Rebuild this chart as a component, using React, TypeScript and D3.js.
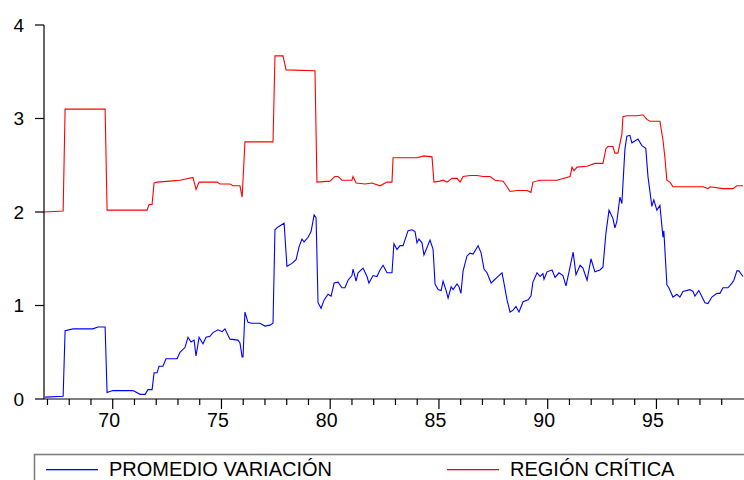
import React from 'react';
import * as d3 from 'd3';

// [year, value]
const promedioVariacion: [number, number][] = [
  [66.89, 0.02], [67.72, 0.03], [67.81, 0.73], [68.18, 0.75], [69.09, 0.75], [69.32, 0.77], [69.65, 0.77],
  [69.74, 0.07], [70.01, 0.09], [70.93, 0.09], [71.26, 0.05], [71.49, 0.05], [71.62, 0.10], [71.81, 0.10],
  [71.90, 0.28], [72.04, 0.28], [72.13, 0.35], [72.31, 0.35], [72.45, 0.43], [72.96, 0.43], [73.09, 0.50],
  [73.32, 0.55], [73.46, 0.66], [73.60, 0.61], [73.74, 0.63], [73.83, 0.46], [73.97, 0.66], [74.15, 0.59],
  [74.29, 0.66], [74.47, 0.67], [74.61, 0.71], [74.84, 0.74], [75.03, 0.72], [75.16, 0.75], [75.39, 0.64],
  [75.76, 0.63], [75.85, 0.60], [75.95, 0.45], [75.99, 0.45], [76.08, 0.93], [76.22, 0.82], [76.40, 0.81],
  [76.77, 0.81], [77.00, 0.78], [77.23, 0.79], [77.37, 0.81], [77.46, 1.81], [77.60, 1.84], [77.88, 1.88],
  [78.01, 1.42], [78.24, 1.45], [78.43, 1.49], [78.57, 1.63], [78.70, 1.71], [78.80, 1.68], [78.98, 1.73],
  [79.12, 1.79], [79.26, 1.97], [79.35, 1.94], [79.44, 1.03], [79.58, 0.97], [79.72, 1.06], [79.90, 1.12],
  [80.04, 1.10], [80.18, 1.24], [80.36, 1.25], [80.54, 1.19], [80.68, 1.19], [80.82, 1.27], [81.00, 1.32],
  [81.05, 1.39], [81.19, 1.26], [81.28, 1.35], [81.51, 1.40], [81.69, 1.31], [81.78, 1.24], [81.97, 1.32],
  [82.15, 1.31], [82.29, 1.38], [82.43, 1.43], [82.61, 1.35], [82.84, 1.35], [82.93, 1.66], [83.07, 1.60],
  [83.21, 1.64], [83.35, 1.64], [83.58, 1.80], [83.76, 1.81], [83.90, 1.79], [83.99, 1.67], [84.08, 1.71],
  [84.22, 1.67], [84.31, 1.54], [84.59, 1.70], [84.73, 1.60], [84.82, 1.23], [84.96, 1.17], [85.10, 1.16],
  [85.19, 1.26], [85.33, 1.16], [85.42, 1.08], [85.56, 1.20], [85.65, 1.17], [85.83, 1.23], [85.92, 1.20],
  [86.01, 1.13], [86.11, 1.37], [86.29, 1.53], [86.43, 1.56], [86.57, 1.55], [86.80, 1.64], [86.94, 1.56],
  [87.07, 1.39], [87.21, 1.35], [87.40, 1.24], [87.53, 1.27], [87.67, 1.30], [87.90, 1.35], [87.99, 1.24],
  [88.13, 1.06], [88.27, 0.93], [88.41, 0.95], [88.54, 0.99], [88.68, 0.93], [88.87, 1.04], [89.10, 1.06],
  [89.23, 1.10], [89.32, 1.25], [89.51, 1.35], [89.65, 1.31], [89.78, 1.34], [89.83, 1.28], [89.97, 1.36],
  [90.20, 1.38], [90.34, 1.30], [90.52, 1.35], [90.70, 1.32], [90.84, 1.21], [90.98, 1.36], [91.17, 1.57],
  [91.30, 1.33], [91.49, 1.43], [91.62, 1.40], [91.81, 1.27], [91.99, 1.50], [92.17, 1.36], [92.40, 1.38],
  [92.54, 1.41], [92.68, 1.78], [92.82, 2.02], [93.00, 1.93], [93.09, 1.83], [93.18, 1.90], [93.32, 2.16],
  [93.41, 2.09], [93.55, 2.67], [93.64, 2.81], [93.78, 2.82], [93.87, 2.74], [94.01, 2.76], [94.15, 2.78],
  [94.33, 2.71], [94.51, 2.68], [94.61, 2.38], [94.79, 2.06], [94.88, 2.13], [95.02, 2.02], [95.16, 2.07],
  [95.30, 1.73], [95.34, 1.80], [95.48, 1.22], [95.57, 1.19], [95.76, 1.09], [95.94, 1.12], [96.08, 1.09],
  [96.22, 1.15], [96.54, 1.17], [96.68, 1.15], [96.77, 1.10], [96.95, 1.16], [97.23, 1.03], [97.37, 1.02],
  [97.55, 1.09], [97.78, 1.13], [97.92, 1.13], [98.06, 1.19], [98.29, 1.19], [98.47, 1.24], [98.56, 1.27],
  [98.70, 1.37], [98.79, 1.37], [98.98, 1.31],
];

const regionCritica: [number, number][] = [
  [66.84, 2.00], [67.72, 2.01], [67.81, 3.10], [69.65, 3.10], [69.74, 2.02], [71.58, 2.02], [71.67, 2.08],
  [71.81, 2.08], [71.90, 2.31], [72.04, 2.32], [72.63, 2.33], [73.09, 2.34], [73.69, 2.37], [73.83, 2.24],
  [73.97, 2.32], [74.24, 2.32], [74.80, 2.32], [74.93, 2.30], [75.39, 2.30], [75.53, 2.28], [75.85, 2.28],
  [75.95, 2.16], [76.08, 2.75], [77.37, 2.75], [77.46, 3.67], [77.83, 3.67], [77.97, 3.52], [79.30, 3.51],
  [79.39, 2.32], [79.99, 2.33], [80.22, 2.38], [80.36, 2.38], [80.54, 2.34], [81.00, 2.34], [81.05, 2.38],
  [81.19, 2.31], [81.60, 2.30], [81.92, 2.31], [82.29, 2.28], [82.61, 2.32], [82.84, 2.32], [82.89, 2.58],
  [83.99, 2.58], [84.31, 2.60], [84.68, 2.59], [84.77, 2.32], [85.05, 2.33], [85.19, 2.34], [85.37, 2.32],
  [85.60, 2.36], [85.83, 2.36], [85.97, 2.32], [86.11, 2.38], [86.43, 2.39], [86.75, 2.39], [87.03, 2.38],
  [87.35, 2.38], [87.58, 2.34], [87.95, 2.33], [88.13, 2.27], [88.27, 2.22], [88.59, 2.23], [89.05, 2.23],
  [89.23, 2.21], [89.32, 2.32], [89.65, 2.34], [90.43, 2.34], [91.03, 2.38], [91.12, 2.48], [91.21, 2.44],
  [91.35, 2.48], [91.81, 2.49], [92.17, 2.52], [92.54, 2.52], [92.68, 2.68], [92.77, 2.70], [93.00, 2.70],
  [93.09, 2.63], [93.23, 2.63], [93.41, 2.83], [93.46, 3.02], [93.64, 3.03], [94.10, 3.03], [94.38, 3.04],
  [94.56, 2.99], [94.70, 2.97], [95.16, 2.97], [95.30, 2.77], [95.39, 2.58], [95.48, 2.34], [95.62, 2.32],
  [95.76, 2.27], [96.40, 2.27], [97.14, 2.27], [97.37, 2.25], [97.46, 2.27], [98.06, 2.25], [98.52, 2.25],
  [98.70, 2.28], [98.98, 2.28],
];

const yTicks = [0, 1, 2, 3, 4];
const xMajorTicks = [70, 75, 80, 85, 90, 95];
const xMinorTicks = d3.range(67, 99);

const BLUE = '#0000ff';
const RED = '#ff0000';
const WIDTH = 744;
const HEIGHT = 480;
const FONT = '"Liberation Sans", Arial, Helvetica, sans-serif';

export default function App() {
  const x = d3.scaleLinear().domain([66.84, 98.98]).range([44, 743]);
  const y = d3.scaleLinear().domain([0, 4]).range([399, 25]);

  const line = d3.line<[number, number]>()
    .x(d => x(d[0]))
    .y(d => y(d[1]));

  return (
    <svg
      width={WIDTH}
      height={HEIGHT}
      style={{ position: 'absolute', left: 0, top: 0, background: '#fff' }}
      fontFamily={FONT}
    >
      {/* series */}
      <path d={line(regionCritica) || ''} fill="none" stroke={RED} strokeWidth={1.1} />
      <path d={line(promedioVariacion) || ''} fill="none" stroke={BLUE} strokeWidth={1.1} />

      {/* y axis */}
      <line x1={44} x2={44} y1={y(4)} y2={y(0)} stroke="#000" strokeWidth={1.2} />
      {yTicks.map(t => (
        <g key={t}>
          <line x1={35} x2={44} y1={y(t)} y2={y(t)} stroke="#000" strokeWidth={1.2} />
          <text x={24} y={y(t)} dy="0.36em" textAnchor="end" fontSize={19} fill="#000">{t}</text>
        </g>
      ))}

      {/* x axis */}
      <line x1={44} x2={WIDTH} y1={y(0)} y2={y(0)} stroke="#000" strokeWidth={1.2} />
      {xMinorTicks.map(t => (
        <line key={t} x1={x(t)} x2={x(t)} y1={y(0)} y2={y(0) + (t % 5 === 0 ? 10 : 6)} stroke="#000" strokeWidth={1.2} />
      ))}
      {xMajorTicks.map(t => (
        <text key={t} x={x(t) - 3.5} y={427} textAnchor="middle" fontSize={19.5} fill="#000">{t}</text>
      ))}

      {/* legend */}
      <rect x={34.5} y={454.5} width={WIDTH} height={40} fill="none" stroke="#7f7f7f" strokeWidth={1.6} />
      <rect x={46} y={469} width={52} height={1.3} fill={BLUE} />
      <text x={109} y={475.5} fontSize={20} fill="#000">PROMEDIO VARIACIÓN</text>
      <rect x={447} y={469} width={52} height={1.3} fill={RED} />
      <text x={510} y={475.5} fontSize={20} fill="#000">REGIÓN CRÍTICA</text>
    </svg>
  );
}
